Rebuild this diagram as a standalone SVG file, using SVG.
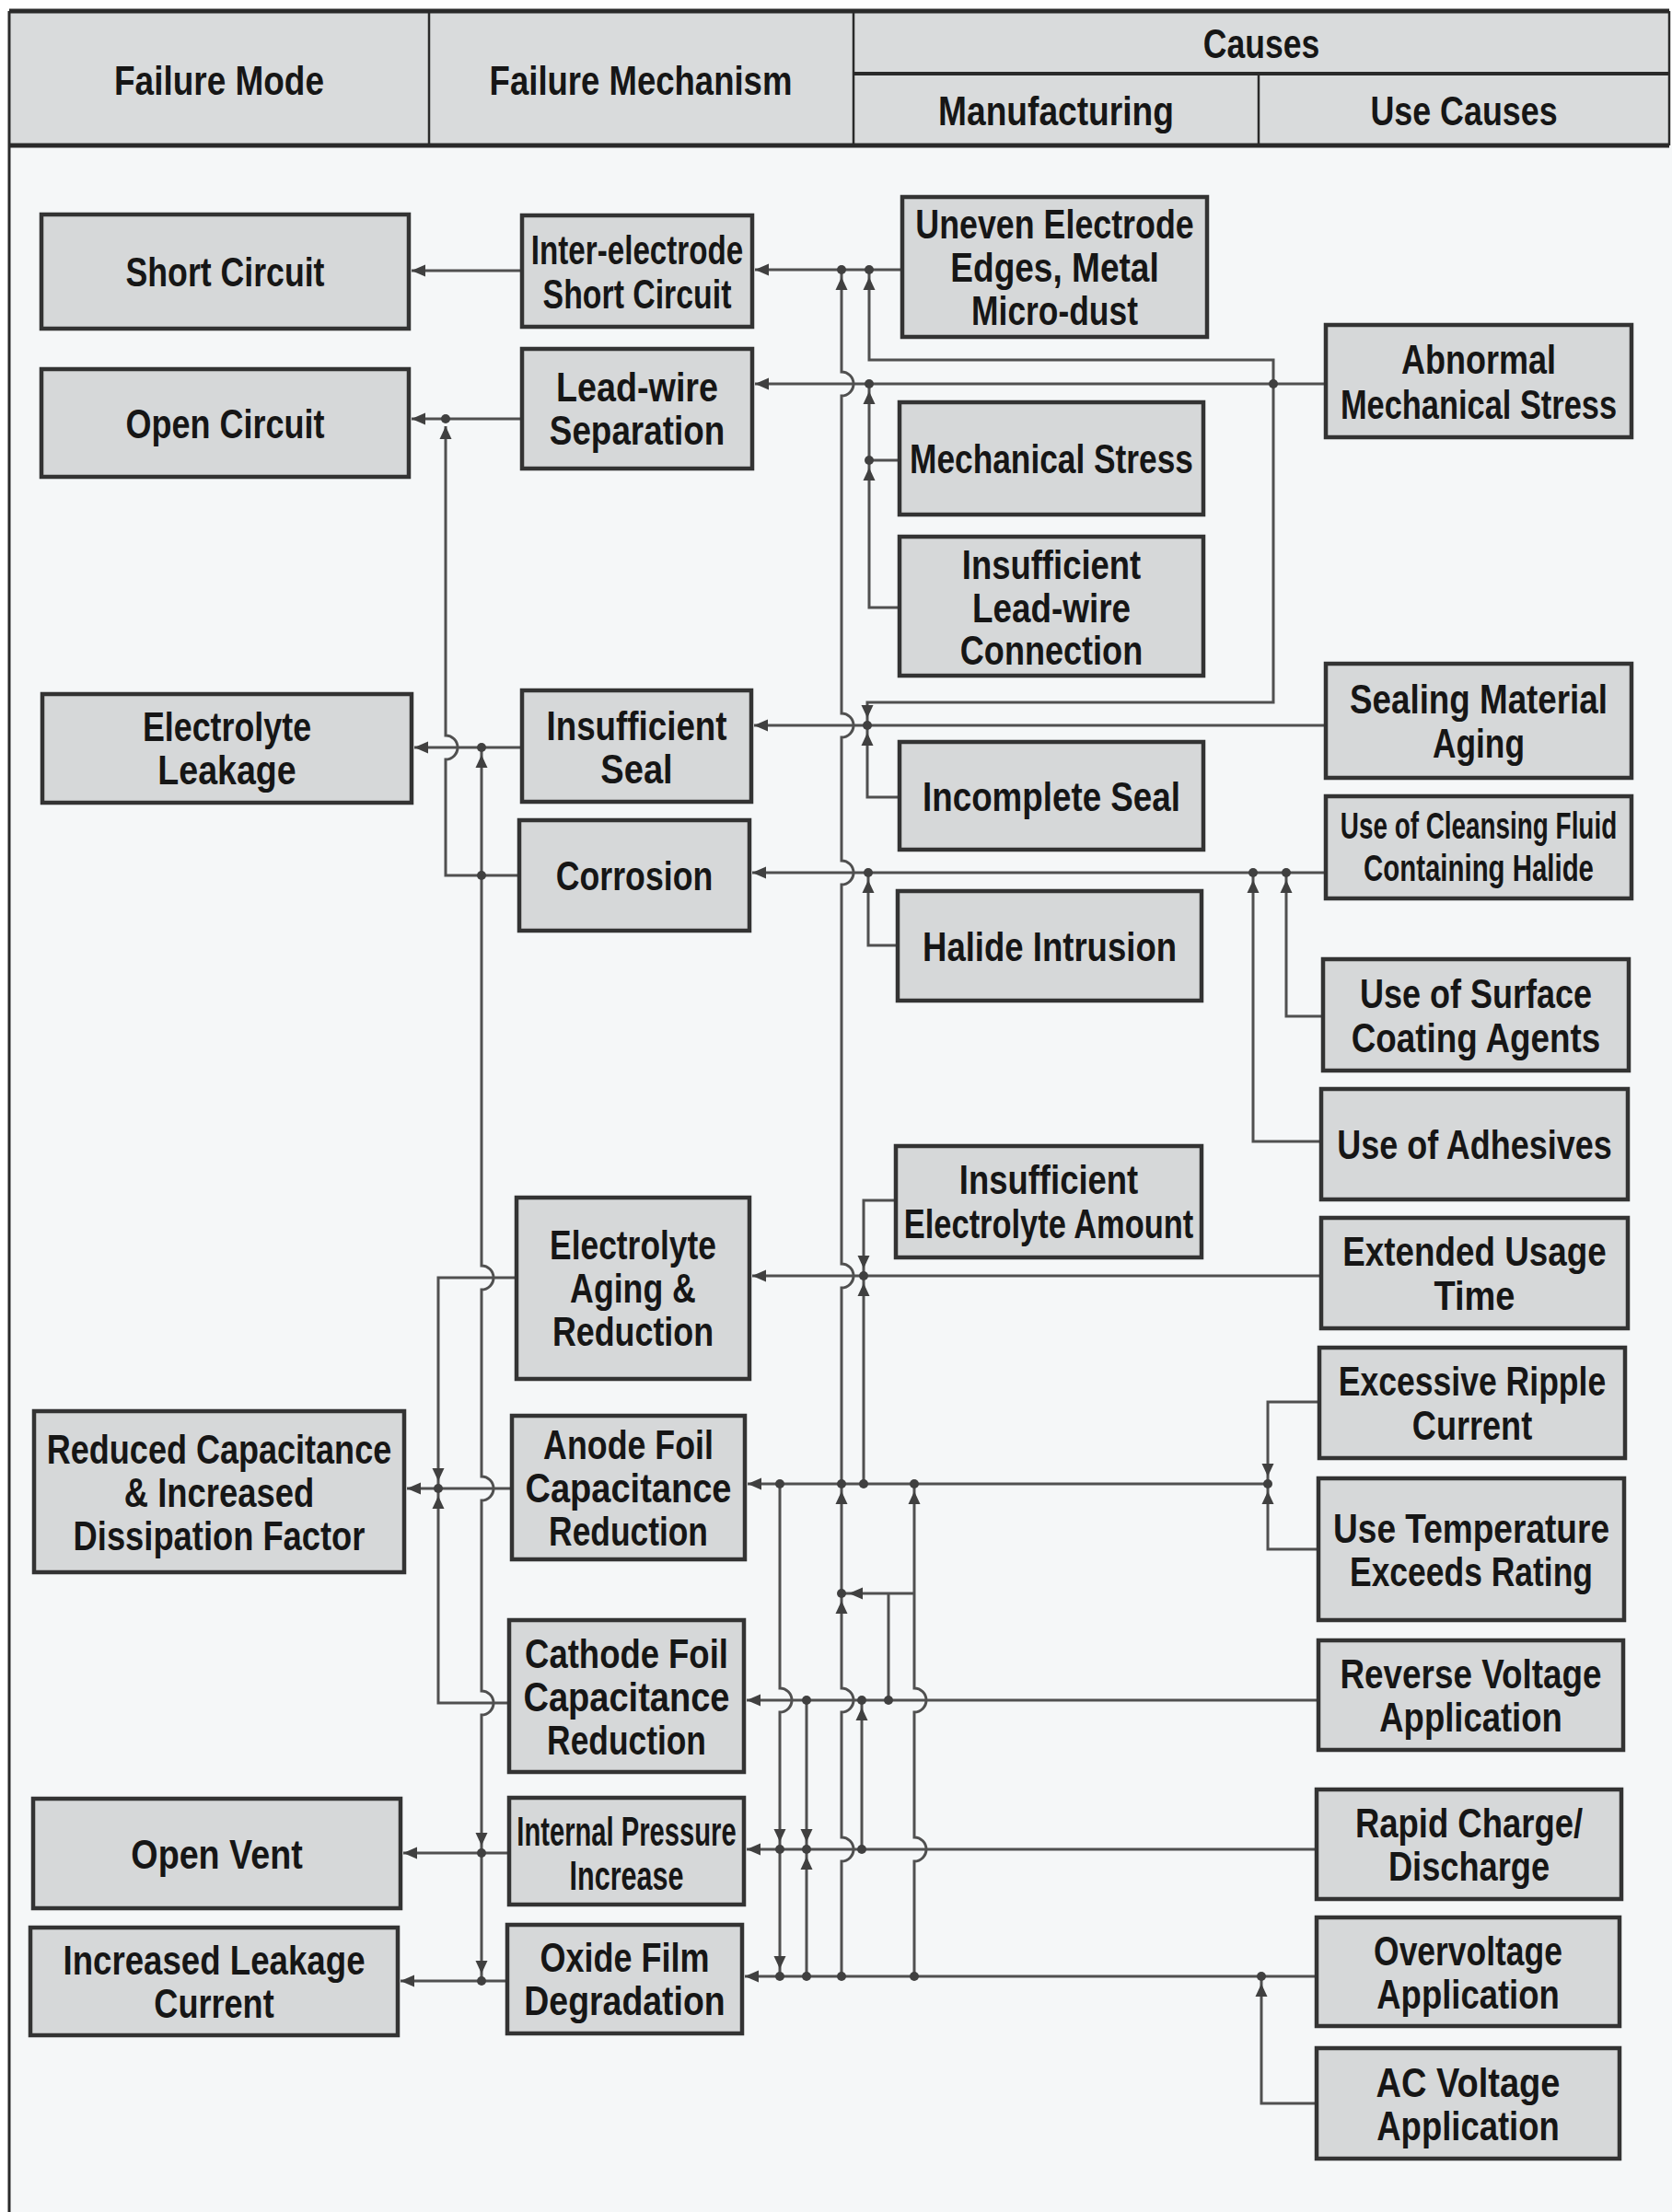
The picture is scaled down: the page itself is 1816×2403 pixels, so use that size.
<svg xmlns="http://www.w3.org/2000/svg" xmlns:xlink="http://www.w3.org/1999/xlink" width="1816" height="2403" viewBox="0 0 1816 2403">
<style>
.bx{fill:#d6d8d9;stroke:#333;stroke-width:4.5}
.t{font-family:"Liberation Sans",Arial,sans-serif;font-weight:bold;font-size:45px;fill:#161616;text-anchor:middle}
.s{font-size:40px}
.c{fill:none;stroke:#505050;stroke-width:3}
.d{fill:#404040}
.a{fill:#404040}
.hl{stroke:#2a2a2a;fill:none}
</style>
<defs>
<path id="al" d="M0,0 l15,-6.5 v13 z"/>
<path id="au" d="M0,0 l-6.5,14 h13 z"/>
<path id="ad" d="M0,0 l-6.5,-14 h13 z"/>
</defs>
<rect x="0" y="0" width="1816" height="2403" fill="#ffffff"/>
<rect x="10" y="158" width="1806" height="2245" fill="#f5f7f8"/>
<g id="header">
<rect x="10" y="12" width="1803" height="146" fill="#d9dbdc"/>
<line class="hl" x1="10" y1="12" x2="1813" y2="12" stroke-width="5"/>
<line class="hl" x1="10" y1="158" x2="1813" y2="158" stroke-width="5"/>
<line class="hl" x1="466" y1="12" x2="466" y2="158" stroke-width="2.5"/>
<line class="hl" x1="927" y1="12" x2="927" y2="158" stroke-width="2.5"/>
<line class="hl" x1="927" y1="80" x2="1813" y2="80" stroke-width="4"/>
<line class="hl" x1="1367" y1="80" x2="1367" y2="158" stroke-width="2.5"/>
<line class="hl" x1="1813" y1="12" x2="1813" y2="158" stroke-width="2.5"/>
<text class="t" transform="translate(238,0) scale(0.8,1)" x="0" y="103" textLength="285" lengthAdjust="spacingAndGlyphs">Failure Mode</text>
<text class="t" transform="translate(696,0) scale(0.8,1)" x="0" y="103" textLength="411" lengthAdjust="spacingAndGlyphs">Failure Mechanism</text>
<text class="t" transform="translate(1370,0) scale(0.8,1)" x="0" y="63" textLength="158" lengthAdjust="spacingAndGlyphs">Causes</text>
<text class="t" transform="translate(1147,0) scale(0.8,1)" x="0" y="136" textLength="320" lengthAdjust="spacingAndGlyphs">Manufacturing</text>
<text class="t" transform="translate(1590,0) scale(0.8,1)" x="0" y="136" textLength="254" lengthAdjust="spacingAndGlyphs">Use Causes</text>
</g>
<line x1="10" y1="12" x2="10" y2="2403" stroke="#2a2a2a" stroke-width="3"/>

<g id="connectors">
<path class="c" d="M567,294 H447"/>
<path class="c" d="M567,455 H447"/>
<path class="c" d="M484,463 V799 a13,13 0 0 1 0,26 V951 H564"/>
<path class="c" d="M567,812 H450"/>
<path class="c" d="M523,812 V1375 a13,13 0 0 1 0,26 V1604 a13,13 0 0 1 0,26 V1837 a13,13 0 0 1 0,26 V2152"/>
<path class="c" d="M561,1388 H476 V1617"/>
<path class="c" d="M556,1617 H442"/>
<path class="c" d="M553,1850 H476 V1617"/>
<path class="c" d="M553,2013 H438"/>
<path class="c" d="M551,2152 H435"/>
<path class="c" d="M980,293 H820"/>
<path class="c" d="M944,293 V391 H1383 V763 H942 V788"/>
<path class="c" d="M1440,417 H820"/>
<path class="c" d="M977,500 H944"/>
<path class="c" d="M977,660 H944 V417"/>
<path class="c" d="M1440,788 H819"/>
<path class="c" d="M977,866 H942 V788"/>
<path class="c" d="M1440,948 H817"/>
<path class="c" d="M975,1027 H943 V948"/>
<path class="c" d="M1437,1104 H1397 V948"/>
<path class="c" d="M1435,1240 H1361 V948"/>
<path class="c" d="M1435,1386 H817"/>
<path class="c" d="M973,1304 H938 V1612"/>
<path class="c" d="M1433,1523 H1377 V1683 H1432"/>
<path class="c" d="M1377,1612 H812"/>
<path class="c" d="M914,293 V404 a13,13 0 0 1 0,26 V775 a13,13 0 0 1 0,26 V935 a13,13 0 0 1 0,26 V1373 a13,13 0 0 1 0,26 V1834 a13,13 0 0 1 0,26 V1996 a13,13 0 0 1 0,26 V2147"/>
<path class="c" d="M993,1612 V1834 a13,13 0 0 1 0,26 V1996 a13,13 0 0 1 0,26 V2147"/>
<path class="c" d="M993,1731 H914"/>
<path class="c" d="M965,1731 V1847"/>
<path class="c" d="M1432,1847 H811"/>
<path class="c" d="M936,2009 V1847"/>
<path class="c" d="M876,1847 V2147"/>
<path class="c" d="M847,1612 V1834 a13,13 0 0 1 0,26 V2147"/>
<path class="c" d="M1430,2009 H811"/>
<path class="c" d="M1430,2147 H809"/>
<path class="c" d="M1430,2285 H1370 V2147"/>

<g class="a">
<use xlink:href="#al" x="447" y="294"/>
<use xlink:href="#al" x="447" y="455"/>
<use xlink:href="#al" x="450" y="812"/>
<use xlink:href="#al" x="442" y="1617"/>
<use xlink:href="#al" x="438" y="2013"/>
<use xlink:href="#al" x="435" y="2152"/>
<use xlink:href="#al" x="820" y="293"/>
<use xlink:href="#al" x="820" y="417"/>
<use xlink:href="#al" x="819" y="788"/>
<use xlink:href="#al" x="817" y="948"/>
<use xlink:href="#al" x="817" y="1386"/>
<use xlink:href="#al" x="812" y="1612"/>
<use xlink:href="#al" x="811" y="1847"/>
<use xlink:href="#al" x="811" y="2009"/>
<use xlink:href="#al" x="809" y="2147"/>
<use xlink:href="#al" x="922" y="1731"/>
<use xlink:href="#au" x="484" y="463"/>
<use xlink:href="#au" x="523" y="820"/>
<use xlink:href="#ad" x="523" y="2005"/>
<use xlink:href="#ad" x="523" y="2144"/>
<use xlink:href="#ad" x="476" y="1609"/>
<use xlink:href="#au" x="476" y="1625"/>
<use xlink:href="#au" x="914" y="301"/>
<use xlink:href="#au" x="944" y="301"/>
<use xlink:href="#au" x="944" y="425"/>
<use xlink:href="#au" x="944" y="508"/>
<use xlink:href="#ad" x="942" y="780"/>
<use xlink:href="#au" x="942" y="796"/>
<use xlink:href="#au" x="943" y="956"/>
<use xlink:href="#au" x="1361" y="956"/>
<use xlink:href="#au" x="1397" y="956"/>
<use xlink:href="#ad" x="938" y="1378"/>
<use xlink:href="#au" x="938" y="1394"/>
<use xlink:href="#ad" x="1377" y="1604"/>
<use xlink:href="#au" x="1377" y="1620"/>
<use xlink:href="#au" x="914" y="1620"/>
<use xlink:href="#au" x="993" y="1620"/>
<use xlink:href="#au" x="914" y="1739"/>
<use xlink:href="#au" x="936" y="1855"/>
<use xlink:href="#ad" x="876" y="2001"/>
<use xlink:href="#au" x="876" y="2017"/>
<use xlink:href="#ad" x="847" y="2001"/>
<use xlink:href="#ad" x="847" y="2139"/>
<use xlink:href="#au" x="1370" y="2155"/>
</g>
<g class="d">
<circle cx="484" cy="455" r="5"/>
<circle cx="523" cy="812" r="5"/>
<circle cx="523" cy="951" r="5"/>
<circle cx="523" cy="2013" r="5"/>
<circle cx="523" cy="2152" r="5"/>
<circle cx="476" cy="1617" r="5"/>
<circle cx="914" cy="293" r="5"/>
<circle cx="944" cy="293" r="5"/>
<circle cx="944" cy="417" r="5"/>
<circle cx="944" cy="500" r="5"/>
<circle cx="1383" cy="417" r="5"/>
<circle cx="942" cy="788" r="5"/>
<circle cx="943" cy="948" r="5"/>
<circle cx="1361" cy="948" r="5"/>
<circle cx="1397" cy="948" r="5"/>
<circle cx="938" cy="1386" r="5"/>
<circle cx="1377" cy="1612" r="5"/>
<circle cx="847" cy="1612" r="5"/>
<circle cx="914" cy="1612" r="5"/>
<circle cx="938" cy="1612" r="5"/>
<circle cx="993" cy="1612" r="5"/>
<circle cx="914" cy="1731" r="5"/>
<circle cx="876" cy="1847" r="5"/>
<circle cx="936" cy="1847" r="5"/>
<circle cx="965" cy="1847" r="5"/>
<circle cx="847" cy="2009" r="5"/>
<circle cx="876" cy="2009" r="5"/>
<circle cx="936" cy="2009" r="5"/>
<circle cx="847" cy="2147" r="5"/>
<circle cx="876" cy="2147" r="5"/>
<circle cx="914" cy="2147" r="5"/>
<circle cx="993" cy="2147" r="5"/>
<circle cx="1370" cy="2147" r="5"/>
</g>
</g>

<g id="mode-short-circuit"><rect class="bx" x="45" y="233" width="399" height="124"/>
<text class="t" transform="translate(244.5,0) scale(0.8,1)" x="0" y="311" textLength="270" lengthAdjust="spacingAndGlyphs">Short Circuit</text></g>
<g id="mode-open-circuit"><rect class="bx" x="45" y="401" width="399" height="117"/>
<text class="t" transform="translate(244.5,0) scale(0.8,1)" x="0" y="476" textLength="270" lengthAdjust="spacingAndGlyphs">Open Circuit</text></g>
<g id="mode-electrolyte-leakage"><rect class="bx" x="46" y="754" width="401" height="118"/>
<text class="t" transform="translate(246.5,0) scale(0.8,1)" x="0" y="805" textLength="229" lengthAdjust="spacingAndGlyphs">Electrolyte</text>
<text class="t" transform="translate(246.5,0) scale(0.8,1)" x="0" y="852" textLength="188" lengthAdjust="spacingAndGlyphs">Leakage</text></g>
<g id="mode-reduced-capacitance"><rect class="bx" x="37" y="1533" width="402" height="175"/>
<text class="t" transform="translate(238,0) scale(0.8,1)" x="0" y="1590" textLength="468" lengthAdjust="spacingAndGlyphs">Reduced Capacitance</text>
<text class="t" transform="translate(238,0) scale(0.8,1)" x="0" y="1637" textLength="258" lengthAdjust="spacingAndGlyphs">&amp; Increased</text>
<text class="t" transform="translate(238,0) scale(0.8,1)" x="0" y="1684" textLength="396" lengthAdjust="spacingAndGlyphs">Dissipation Factor</text></g>
<g id="mode-open-vent"><rect class="bx" x="36" y="1954" width="399" height="119"/>
<text class="t" transform="translate(235.5,0) scale(0.8,1)" x="0" y="2030" textLength="233" lengthAdjust="spacingAndGlyphs">Open Vent</text></g>
<g id="mode-increased-leakage-current"><rect class="bx" x="33" y="2094" width="399" height="117"/>
<text class="t" transform="translate(232.5,0) scale(0.8,1)" x="0" y="2145" textLength="410" lengthAdjust="spacingAndGlyphs">Increased Leakage</text>
<text class="t" transform="translate(232.5,0) scale(0.8,1)" x="0" y="2192" textLength="163" lengthAdjust="spacingAndGlyphs">Current</text></g>

<g id="mech-inter-electrode"><rect class="bx" x="567" y="234" width="250" height="121"/>
<text class="t" transform="translate(692,0) scale(0.8,1)" x="0" y="287" textLength="288" lengthAdjust="spacingAndGlyphs">Inter-electrode</text>
<text class="t" transform="translate(692,0) scale(0.8,1)" x="0" y="335" textLength="256" lengthAdjust="spacingAndGlyphs">Short Circuit</text></g>
<g id="mech-lead-wire-separation"><rect class="bx" x="567" y="379" width="250" height="130"/>
<text class="t" transform="translate(692,0) scale(0.8,1)" x="0" y="436" textLength="220" lengthAdjust="spacingAndGlyphs">Lead-wire</text>
<text class="t" transform="translate(692,0) scale(0.8,1)" x="0" y="483" textLength="238" lengthAdjust="spacingAndGlyphs">Separation</text></g>
<g id="mech-insufficient-seal"><rect class="bx" x="567" y="750" width="249" height="121"/>
<text class="t" transform="translate(691.5,0) scale(0.8,1)" x="0" y="804" textLength="245" lengthAdjust="spacingAndGlyphs">Insufficient</text>
<text class="t" transform="translate(691.5,0) scale(0.8,1)" x="0" y="851" textLength="98" lengthAdjust="spacingAndGlyphs">Seal</text></g>
<g id="mech-corrosion"><rect class="bx" x="564" y="891" width="250" height="120"/>
<text class="t" transform="translate(689,0) scale(0.8,1)" x="0" y="967" textLength="213" lengthAdjust="spacingAndGlyphs">Corrosion</text></g>
<g id="mech-electrolyte-aging"><rect class="bx" x="561" y="1301" width="253" height="197"/>
<text class="t" transform="translate(687.5,0) scale(0.8,1)" x="0" y="1368" textLength="226" lengthAdjust="spacingAndGlyphs">Electrolyte</text>
<text class="t" transform="translate(687.5,0) scale(0.8,1)" x="0" y="1415" textLength="171" lengthAdjust="spacingAndGlyphs">Aging &amp;</text>
<text class="t" transform="translate(687.5,0) scale(0.8,1)" x="0" y="1462" textLength="219" lengthAdjust="spacingAndGlyphs">Reduction</text></g>
<g id="mech-anode-foil"><rect class="bx" x="556" y="1538" width="253" height="156"/>
<text class="t" transform="translate(682.5,0) scale(0.8,1)" x="0" y="1585" textLength="231" lengthAdjust="spacingAndGlyphs">Anode Foil</text>
<text class="t" transform="translate(682.5,0) scale(0.8,1)" x="0" y="1632" textLength="280" lengthAdjust="spacingAndGlyphs">Capacitance</text>
<text class="t" transform="translate(682.5,0) scale(0.8,1)" x="0" y="1679" textLength="216" lengthAdjust="spacingAndGlyphs">Reduction</text></g>
<g id="mech-cathode-foil"><rect class="bx" x="553" y="1760" width="255" height="165"/>
<text class="t" transform="translate(680.5,0) scale(0.8,1)" x="0" y="1812" textLength="276" lengthAdjust="spacingAndGlyphs">Cathode Foil</text>
<text class="t" transform="translate(680.5,0) scale(0.8,1)" x="0" y="1859" textLength="280" lengthAdjust="spacingAndGlyphs">Capacitance</text>
<text class="t" transform="translate(680.5,0) scale(0.8,1)" x="0" y="1906" textLength="216" lengthAdjust="spacingAndGlyphs">Reduction</text></g>
<g id="mech-internal-pressure"><rect class="bx" x="553" y="1953" width="255" height="116"/>
<text class="t" transform="translate(680.5,0) scale(0.8,1)" x="0" y="2005" textLength="298" lengthAdjust="spacingAndGlyphs">Internal Pressure</text>
<text class="t" transform="translate(680.5,0) scale(0.8,1)" x="0" y="2053" textLength="155" lengthAdjust="spacingAndGlyphs">Increase</text></g>
<g id="mech-oxide-film"><rect class="bx" x="551" y="2091" width="255" height="118"/>
<text class="t" transform="translate(678.5,0) scale(0.8,1)" x="0" y="2142" textLength="230" lengthAdjust="spacingAndGlyphs">Oxide Film</text>
<text class="t" transform="translate(678.5,0) scale(0.8,1)" x="0" y="2189" textLength="273" lengthAdjust="spacingAndGlyphs">Degradation</text></g>

<g id="cause-uneven-electrode"><rect class="bx" x="980" y="214" width="331" height="152"/>
<text class="t" transform="translate(1145.5,0) scale(0.8,1)" x="0" y="259" textLength="378" lengthAdjust="spacingAndGlyphs">Uneven Electrode</text>
<text class="t" transform="translate(1145.5,0) scale(0.8,1)" x="0" y="306" textLength="283" lengthAdjust="spacingAndGlyphs">Edges, Metal</text>
<text class="t" transform="translate(1145.5,0) scale(0.8,1)" x="0" y="353" textLength="226" lengthAdjust="spacingAndGlyphs">Micro-dust</text></g>
<g id="cause-mechanical-stress"><rect class="bx" x="977" y="437" width="330" height="122"/>
<text class="t" transform="translate(1142,0) scale(0.8,1)" x="0" y="514" textLength="385" lengthAdjust="spacingAndGlyphs">Mechanical Stress</text></g>
<g id="cause-insufficient-lead-wire"><rect class="bx" x="977" y="583" width="330" height="151"/>
<text class="t" transform="translate(1142,0) scale(0.8,1)" x="0" y="629" textLength="243" lengthAdjust="spacingAndGlyphs">Insufficient</text>
<text class="t" transform="translate(1142,0) scale(0.8,1)" x="0" y="676" textLength="215" lengthAdjust="spacingAndGlyphs">Lead-wire</text>
<text class="t" transform="translate(1142,0) scale(0.8,1)" x="0" y="722" textLength="248" lengthAdjust="spacingAndGlyphs">Connection</text></g>
<g id="cause-incomplete-seal"><rect class="bx" x="977" y="806" width="330" height="117"/>
<text class="t" transform="translate(1142,0) scale(0.8,1)" x="0" y="881" textLength="350" lengthAdjust="spacingAndGlyphs">Incomplete Seal</text></g>
<g id="cause-halide-intrusion"><rect class="bx" x="975" y="968" width="330" height="119"/>
<text class="t" transform="translate(1140,0) scale(0.8,1)" x="0" y="1044" textLength="345" lengthAdjust="spacingAndGlyphs">Halide Intrusion</text></g>
<g id="cause-insufficient-electrolyte"><rect class="bx" x="973" y="1245" width="332" height="121"/>
<text class="t" transform="translate(1139,0) scale(0.8,1)" x="0" y="1297" textLength="243" lengthAdjust="spacingAndGlyphs">Insufficient</text>
<text class="t" transform="translate(1139,0) scale(0.8,1)" x="0" y="1345" textLength="393" lengthAdjust="spacingAndGlyphs">Electrolyte Amount</text></g>

<g id="use-abnormal-mechanical-stress"><rect class="bx" x="1440" y="353" width="332" height="122"/>
<text class="t" transform="translate(1606,0) scale(0.8,1)" x="0" y="406" textLength="210" lengthAdjust="spacingAndGlyphs">Abnormal</text>
<text class="t" transform="translate(1606,0) scale(0.82,1)" x="0" y="455" font-size="42" textLength="366" lengthAdjust="spacingAndGlyphs">Mechanical Stress</text></g>
<g id="use-sealing-material-aging"><rect class="bx" x="1440" y="721" width="332" height="124"/>
<text class="t" transform="translate(1606,0) scale(0.8,1)" x="0" y="775" textLength="350" lengthAdjust="spacingAndGlyphs">Sealing Material</text>
<text class="t" transform="translate(1606,0) scale(0.8,1)" x="0" y="823" textLength="125" lengthAdjust="spacingAndGlyphs">Aging</text></g>
<g id="use-cleansing-fluid"><rect class="bx" x="1440" y="865" width="332" height="111"/>
<text class="t s" transform="translate(1606,0) scale(0.7,1)" x="0" y="911" textLength="429" lengthAdjust="spacingAndGlyphs">Use of Cleansing Fluid</text>
<text class="t s" transform="translate(1606,0) scale(0.735,1)" x="0" y="957" textLength="340" lengthAdjust="spacingAndGlyphs">Containing Halide</text></g>
<g id="use-surface-coating"><rect class="bx" x="1437" y="1042" width="332" height="121"/>
<text class="t" transform="translate(1603,0) scale(0.8,1)" x="0" y="1095" textLength="315" lengthAdjust="spacingAndGlyphs">Use of Surface</text>
<text class="t" transform="translate(1603,0) scale(0.8,1)" x="0" y="1143" textLength="338" lengthAdjust="spacingAndGlyphs">Coating Agents</text></g>
<g id="use-adhesives"><rect class="bx" x="1435" y="1183" width="333" height="120"/>
<text class="t" transform="translate(1601.5,0) scale(0.8,1)" x="0" y="1259" textLength="373" lengthAdjust="spacingAndGlyphs">Use of Adhesives</text></g>
<g id="use-extended-usage-time"><rect class="bx" x="1435" y="1323" width="333" height="120"/>
<text class="t" transform="translate(1601.5,0) scale(0.8,1)" x="0" y="1375" textLength="358" lengthAdjust="spacingAndGlyphs">Extended Usage</text>
<text class="t" transform="translate(1601.5,0) scale(0.8,1)" x="0" y="1423" textLength="110" lengthAdjust="spacingAndGlyphs">Time</text></g>
<g id="use-excessive-ripple"><rect class="bx" x="1433" y="1464" width="332" height="120"/>
<text class="t" transform="translate(1599,0) scale(0.8,1)" x="0" y="1516" textLength="363" lengthAdjust="spacingAndGlyphs">Excessive Ripple</text>
<text class="t" transform="translate(1599,0) scale(0.8,1)" x="0" y="1564" textLength="163" lengthAdjust="spacingAndGlyphs">Current</text></g>
<g id="use-temperature"><rect class="bx" x="1432" y="1606" width="332" height="154"/>
<text class="t" transform="translate(1598,0) scale(0.8,1)" x="0" y="1676" textLength="375" lengthAdjust="spacingAndGlyphs">Use Temperature</text>
<text class="t" transform="translate(1598,0) scale(0.8,1)" x="0" y="1723" textLength="330" lengthAdjust="spacingAndGlyphs">Exceeds Rating</text></g>
<g id="use-reverse-voltage"><rect class="bx" x="1432" y="1782" width="331" height="119"/>
<text class="t" transform="translate(1597.5,0) scale(0.8,1)" x="0" y="1834" textLength="355" lengthAdjust="spacingAndGlyphs">Reverse Voltage</text>
<text class="t" transform="translate(1597.5,0) scale(0.8,1)" x="0" y="1881" textLength="248" lengthAdjust="spacingAndGlyphs">Application</text></g>
<g id="use-rapid-charge"><rect class="bx" x="1430" y="1944" width="331" height="119"/>
<text class="t" transform="translate(1595.5,0) scale(0.8,1)" x="0" y="1996" textLength="309" lengthAdjust="spacingAndGlyphs">Rapid Charge/</text>
<text class="t" transform="translate(1595.5,0) scale(0.8,1)" x="0" y="2043" textLength="219" lengthAdjust="spacingAndGlyphs">Discharge</text></g>
<g id="use-overvoltage"><rect class="bx" x="1430" y="2083" width="329" height="118"/>
<text class="t" transform="translate(1594.5,0) scale(0.8,1)" x="0" y="2135" textLength="256" lengthAdjust="spacingAndGlyphs">Overvoltage</text>
<text class="t" transform="translate(1594.5,0) scale(0.8,1)" x="0" y="2182" textLength="248" lengthAdjust="spacingAndGlyphs">Application</text></g>
<g id="use-ac-voltage"><rect class="bx" x="1430" y="2225" width="329" height="120"/>
<text class="t" transform="translate(1594.5,0) scale(0.8,1)" x="0" y="2278" textLength="250" lengthAdjust="spacingAndGlyphs">AC Voltage</text>
<text class="t" transform="translate(1594.5,0) scale(0.8,1)" x="0" y="2325" textLength="248" lengthAdjust="spacingAndGlyphs">Application</text></g>
</svg>
